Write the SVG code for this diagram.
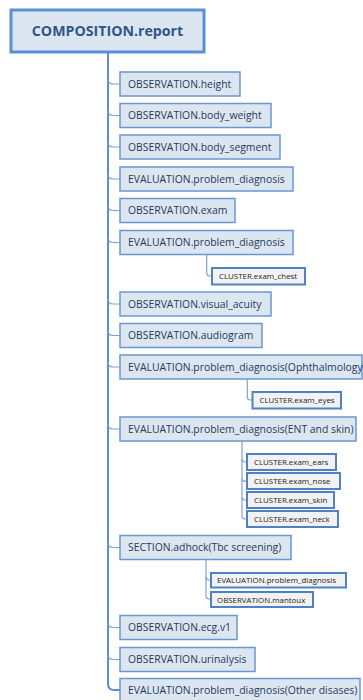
<svg xmlns="http://www.w3.org/2000/svg" width="363" height="700" viewBox="0 0 363 700">
<style>
.main rect{fill:#dce6f1;stroke:#6b97cf;stroke-width:1.5}
.main text{font-family:"Open Sans","Liberation Sans",sans-serif;font-size:10.4px;fill:#1f3a5c}
.cl rect{fill:#f2f2f2;stroke:#4f81c4;stroke-width:2}
.cl text{font-family:"Open Sans","Liberation Sans",sans-serif;font-size:7.9px;fill:#222}
.root rect{fill:#dce6f1;stroke:#5b8fd4;stroke-width:3}
.root text{font-family:"Open Sans","Liberation Sans",sans-serif;font-size:14.2px;font-weight:bold;fill:#2f5584}
.conn path{fill:none;stroke:#7fa3d6;stroke-width:1.2}
.conn .trunk{stroke:#5b8fd4;stroke-width:2}
</style>
<rect width="363" height="700" fill="#ffffff"/>
<g class="conn" id="connectors">
<path class="trunk" d="M108,52 L108,684 Q108,690 114,690 L120,690"/>
<path d="M108,79 Q108,84 113,84 L120,84"/>
<path d="M108,110.5 Q108,115.5 113,115.5 L120,115.5"/>
<path d="M108,142 Q108,147 113,147 L120,147"/>
<path d="M108,174 Q108,179 113,179 L120,179"/>
<path d="M108,205.5 Q108,210.5 113,210.5 L120,210.5"/>
<path d="M108,237.5 Q108,242.5 113,242.5 L120,242.5"/>
<path d="M108,299 Q108,304 113,304 L120,304"/>
<path d="M108,330.5 Q108,335.5 113,335.5 L120,335.5"/>
<path d="M108,362 Q108,367 113,367 L120,367"/>
<path d="M108,424 Q108,429 113,429 L120,429"/>
<path d="M108,542.5 Q108,547.5 113,547.5 L120,547.5"/>
<path d="M108,622.5 Q108,627.5 113,627.5 L120,627.5"/>
<path d="M108,654.5 Q108,659.5 113,659.5 L120,659.5"/>
<path d="M206.7,254.5 L206.7,273 Q206.7,276 209.7,276 L212,276"/>
<path d="M247.3,379 L247.3,397 Q247.3,400 250.3,400 L252.5,400"/>
<path d="M242,441 L242,516 Q242,519 245,519 L247,519"/>
<path d="M242,459 Q242,462 245,462 L247,462"/>
<path d="M242,478.3 Q242,481.3 245,481.3 L247,481.3"/>
<path d="M242,497 Q242,500 245,500 L247,500"/>
<path d="M206,559.5 L206,596 Q206,599 209,599 L211,599"/>
<path d="M206,577 Q206,580 209,580 L211,580"/>
</g>
<g class="root" id="n-root"><rect x="11" y="10" width="193" height="42"/><text x="107.5" y="35.5" text-anchor="middle">COMPOSITION.report</text></g>
<g class="main" id="n-height"><rect x="120" y="72" width="120" height="24"/><text x="128" y="87.5">OBSERVATION.height</text></g>
<g class="main" id="n-body-weight"><rect x="120" y="103.5" width="151" height="24"/><text x="128" y="119">OBSERVATION.body_weight</text></g>
<g class="main" id="n-body-segment"><rect x="120" y="135" width="160" height="24"/><text x="128" y="150.5">OBSERVATION.body_segment</text></g>
<g class="main" id="n-pd1"><rect x="120" y="167" width="173" height="24"/><text x="128" y="182.5">EVALUATION.problem_diagnosis</text></g>
<g class="main" id="n-exam"><rect x="120" y="198.5" width="115" height="24"/><text x="128" y="214">OBSERVATION.exam</text></g>
<g class="main" id="n-pd2"><rect x="120" y="230.5" width="173" height="24"/><text x="128" y="246">EVALUATION.problem_diagnosis</text></g>
<g class="cl" id="n-exam-chest"><rect x="212" y="268" width="93" height="16.5"/><text x="219" y="279.3">CLUSTER.exam_chest</text></g>
<g class="main" id="n-visual"><rect x="120" y="292" width="151" height="24"/><text x="128" y="307.5">OBSERVATION.visual_acuity</text></g>
<g class="main" id="n-audiogram"><rect x="120" y="323.5" width="142" height="24"/><text x="128" y="339">OBSERVATION.audiogram</text></g>
<g class="main" id="n-ophth"><rect x="120" y="355" width="242" height="24"/><text x="128" y="370.5">EVALUATION.problem_diagnosis(Ophthalmology)</text></g>
<g class="cl" id="n-exam-eyes"><rect x="252.5" y="392" width="88.5" height="16.5"/><text x="259.5" y="403.3">CLUSTER.exam_eyes</text></g>
<g class="main" id="n-ent"><rect x="120" y="417" width="236" height="24"/><text x="128" y="432.5">EVALUATION.problem_diagnosis(ENT and skin)</text></g>
<g class="cl" id="n-ears"><rect x="247" y="454" width="89" height="16" /><text x="254" y="465">CLUSTER.exam_ears</text></g>
<g class="cl" id="n-nose"><rect x="247" y="473" width="93" height="16"/><text x="254" y="484.3">CLUSTER.exam_nose</text></g>
<g class="cl" id="n-skin"><rect x="247" y="492" width="87" height="16"/><text x="254" y="503">CLUSTER.exam_skin</text></g>
<g class="cl" id="n-neck"><rect x="247" y="511" width="91" height="16"/><text x="254" y="522">CLUSTER.exam_neck</text></g>
<g class="main" id="n-section"><rect x="120" y="535.5" width="171" height="24"/><text x="128" y="551">SECTION.adhock(Tbc screening)</text></g>
<g class="cl" id="n-pd3"><rect x="211" y="573" width="135" height="14.5"/><text x="217" y="583.3">EVALUATION.problem_diagnosis</text></g>
<g class="cl" id="n-mantoux"><rect x="211" y="592" width="102" height="15"/><text x="217" y="602.5">OBSERVATION.mantoux</text></g>
<g class="main" id="n-ecg"><rect x="120" y="615.5" width="117" height="24"/><text x="128" y="631">OBSERVATION.ecg.v1</text></g>
<g class="main" id="n-urin"><rect x="120" y="647.5" width="135" height="24"/><text x="128" y="663">OBSERVATION.urinalysis</text></g>
<g class="main" id="n-other"><rect x="120" y="678.5" width="240" height="24"/><text x="128" y="694">EVALUATION.problem_diagnosis(Other disases)</text></g>
</svg>
